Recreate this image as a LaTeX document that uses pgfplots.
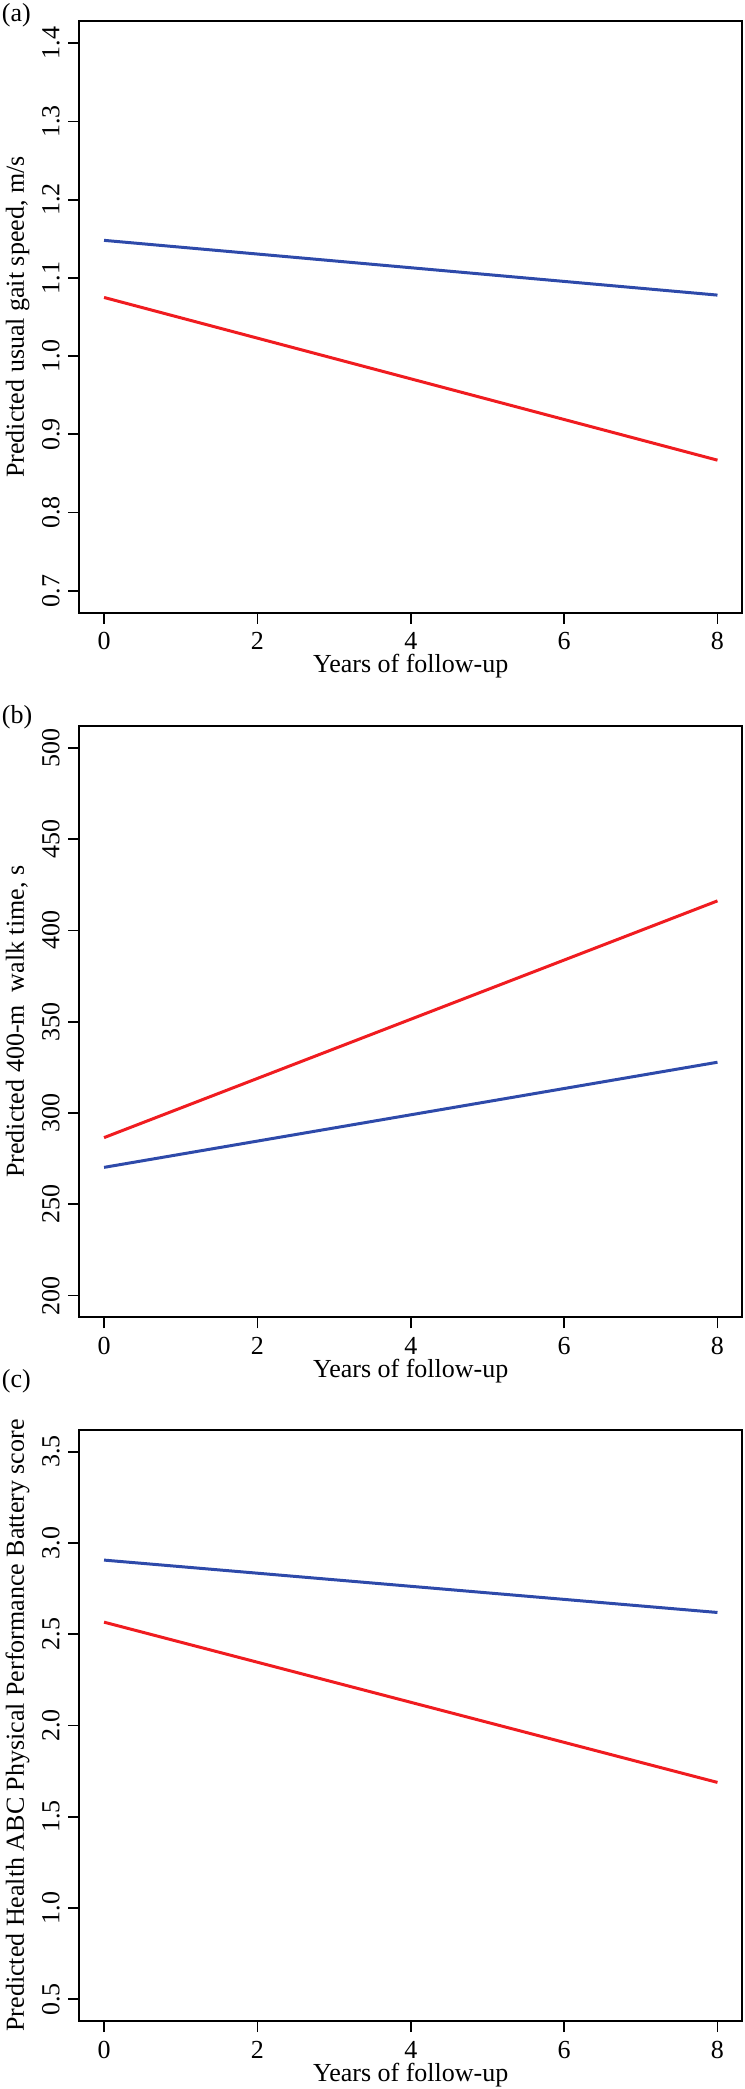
\documentclass[border=0pt]{standalone}
\usepackage{fontspec}
\setmainfont{Liberation Serif}
\usepackage{pgfplots}
\pgfplotsset{compat=1.18}
\definecolor{lblue}{RGB}{46,74,170}
\definecolor{lred}{RGB}{240,28,32}
\pgfplotsset{
  panel/.style={
    scale only axis,
    width=265pt, height=236.56pt,
    anchor=north west,
    xmin=-0.32, xmax=8.32,
    xtick={0,2,4,6,8},
    tick pos=left,
    tick align=outside,
    major tick length=4.4pt,
    axis line style={line width=0.8pt},
    every tick/.style={black, line width=0.7pt},
    font=\fontsize{10.4}{12.5}\selectfont,
    /pgf/number format/assume math mode=true,
    yticklabel style={rotate=90, anchor=south},
    xlabel={Years of follow-up},
    xlabel style={at={(axis description cs:0.5,-0.1015)}, anchor=base},
    ylabel style={at={(axis description cs:-0.0838,0.5)}, anchor=base},
    every axis plot/.append style={line width=1.2pt},
  },
  onedec/.style={yticklabel style={/pgf/number format/.cd, fixed, fixed zerofill, precision=1}},
}
\begin{document}
\begin{tikzpicture}
\path[use as bounding box] (0,0) rectangle (297.6pt,-835.6pt);
% panel labels
\node[anchor=base west, inner sep=0pt, font=\fontsize{10.4}{12.5}\selectfont] at (0.6pt,-8.4pt) {(a)};
\node[anchor=base west, inner sep=0pt, font=\fontsize{10.4}{12.5}\selectfont] at (0.6pt,-289.2pt) {(b)};
\node[anchor=base west, inner sep=0pt, font=\fontsize{10.4}{12.5}\selectfont] at (0.6pt,-554.8pt) {(c)};

\begin{axis}[panel, onedec, at={(31.8pt,-8.52pt)},
  ymin=0.672, ymax=1.428,
  ytick={0.7,0.8,0.9,1.0,1.1,1.2,1.3,1.4},
  ylabel={Predicted usual gait speed, m/s}]
\addplot[lblue] coordinates {(0,1.148) (8,1.078)};
\addplot[lred] coordinates {(0,1.075) (8,0.867)};
\end{axis}

\begin{axis}[panel, at={(31.8pt,-290.4pt)},
  ymin=188, ymax=512,
  ytick={200,250,300,350,400,450,500},
  ylabel={Predicted 400-m\ \ walk time, s}]
\addplot[lred] coordinates {(0,286.5) (8,416.2)};
\addplot[lblue] coordinates {(0,270.2) (8,327.8)};
\end{axis}

\begin{axis}[panel, onedec, at={(31.8pt,-571.9pt)},
  ymin=0.38, ymax=3.62,
  ytick={0.5,1.0,1.5,2.0,2.5,3.0,3.5},
  ylabel={Predicted Health ABC Physical Performance Battery score}]
\addplot[lblue] coordinates {(0,2.906) (8,2.619)};
\addplot[lred] coordinates {(0,2.566) (8,1.688)};
\end{axis}
\end{tikzpicture}
\end{document}
